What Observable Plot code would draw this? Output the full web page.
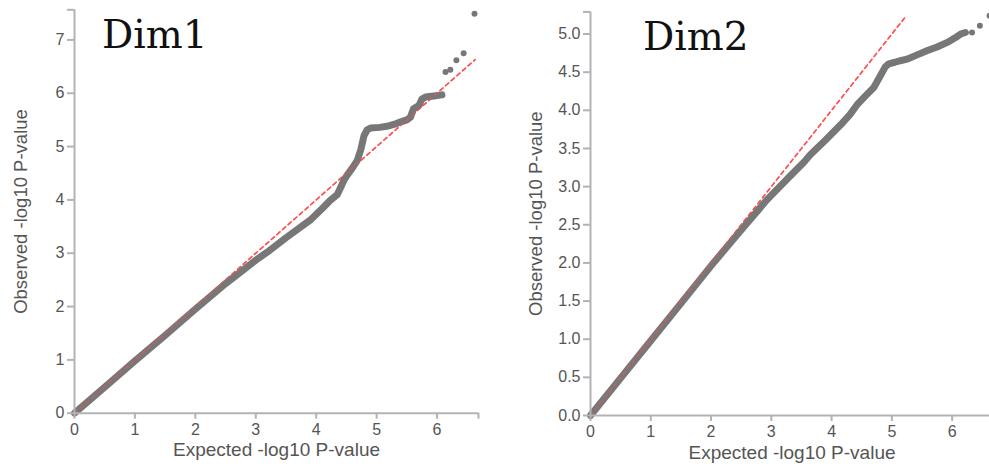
<!DOCTYPE html>
<html>
<head>
<meta charset="utf-8">
<script src="https://cdn.jsdelivr.net/npm/d3@7"></script>
<script src="https://cdn.jsdelivr.net/npm/@observablehq/plot@0.6"></script>
<style>
  html, body { margin: 0; padding: 0; background: #fff; overflow: hidden; }
  #wrap { position: relative; width: 989px; height: 469px; overflow: hidden; }
  .panel { position: absolute; top: 0; }
  .title { position: absolute; font-family: "DejaVu Serif", serif; font-size: 39px; color: #111; line-height: 1; }
</style>
</head>
<body>
<div id="wrap"></div>
<script>
// ---------- Data ----------
const titles = ["Dim1", "Dim2"];
const xLabel = "Expected -log10 P-value";
const yLabel = "Observed -log10 P-value";

// Dim1: dense band of points (expected, observed)
const dim1Expected = [0, 0.5, 1.0, 1.5, 2.0, 2.5, 3.0, 3.19, 3.5, 3.9, 4.1, 4.23, 4.35, 4.46, 4.51, 4.6, 4.68, 4.74, 4.79, 4.84, 4.9, 5.05, 5.17, 5.3, 5.39, 5.5, 5.56, 5.61, 5.7, 5.75, 5.81, 5.95, 6.08];
const dim1Observed = [0, 0.49, 0.98, 1.46, 1.95, 2.43, 2.87, 3.02, 3.29, 3.62, 3.84, 3.99, 4.10, 4.37, 4.46, 4.60, 4.74, 4.95, 5.20, 5.31, 5.35, 5.36, 5.38, 5.42, 5.46, 5.50, 5.55, 5.71, 5.77, 5.89, 5.93, 5.95, 5.97];
// Dim1: sparse tail points
const dim1TailExpected = [6.14, 6.22, 6.32, 6.44, 6.62];
const dim1TailObserved = [6.40, 6.44, 6.62, 6.75, 7.49];

// Dim2: dense band
const dim2Expected = [0, 0.5, 1.0, 1.5, 2.05, 2.5, 2.93, 3.3, 3.54, 3.65, 3.9, 4.15, 4.3, 4.42, 4.55, 4.70, 4.80, 4.89, 4.95, 5.05, 5.14, 5.25, 5.4, 5.58, 5.75, 5.92, 6.05, 6.14, 6.22];
const dim2Observed = [0, 0.49, 0.98, 1.47, 2.01, 2.43, 2.83, 3.13, 3.32, 3.42, 3.61, 3.81, 3.94, 4.07, 4.18, 4.30, 4.44, 4.57, 4.61, 4.63, 4.65, 4.67, 4.72, 4.78, 4.83, 4.89, 4.95, 5.00, 5.02];
const dim2TailExpected = [6.33, 6.46, 6.62];
const dim2TailObserved = [5.02, 5.11, 5.24];

// Reference (y = x) line end points
const dim1Diagonal = [0, 6.63];
const dim2Diagonal = [0, 5.24];

// Axis domains and ticks
const dim1XDomain = [0, 6.686];
const dim1YDomain = [0, 7.565];
const dim2XDomain = [0, 6.686];
const dim2YDomain = [0, 5.29];
const xTicks = [0, 1, 2, 3, 4, 5, 6];
const dim1YTicks = [0, 1, 2, 3, 4, 5, 6, 7];
const dim2YTicks = [0, 0.5, 1.0, 1.5, 2.0, 2.5, 3.0, 3.5, 4.0, 4.5, 5.0];

// ---------- Drawing ----------
const zip = (xs, ys) => xs.map((x, i) => ({x, y: ys[i]}));
const AXIS = "#b3b3b3";
const TEXT = "#555";
const POINT = "#777";

function panel({left, width, marginLeft, marginRight, marginTop, marginBottom,
                xDomain, yDomain, yTicks, yFmt, band, tail, diag, titleText, titleX, titleY, yLabelDx}) {
  const xt = [...xTicks, xDomain[1]];
  const yt = [...yTicks, yDomain[1]];
  const chart = Plot.plot({
    width, height: 469,
    marginLeft, marginRight, marginTop, marginBottom,
    style: {fontFamily: "'Liberation Sans', Arial, sans-serif", background: "transparent", overflow: "visible"},
    x: {domain: xDomain},
    y: {domain: yDomain},
    marks: [
      Plot.line(diag.map(d => ({x: d, y: d})), {x: "x", y: "y", stroke: "#ff5050", strokeWidth: 1.6, strokeDasharray: "4,3.5"}),
      Plot.line(band, {x: "x", y: "y", stroke: POINT, strokeWidth: 7, strokeLinecap: "round", strokeLinejoin: "round"}),
      Plot.dot(tail, {x: "x", y: "y", r: 3, fill: POINT}),
      Plot.line(diag.map(d => ({x: d, y: d})), {x: "x", y: "y", stroke: "#ff5050", strokeWidth: 1.4, strokeDasharray: "4,3.5", strokeOpacity: 0.6}),
      Plot.ruleY([0], {stroke: AXIS, strokeWidth: 2}),
      Plot.ruleX([0], {stroke: AXIS, strokeWidth: 2}),
      Plot.axisX({ticks: xt, tickSize: 6, tickPadding: 4, stroke: AXIS, strokeWidth: 2, fill: TEXT,
                  fontSize: 16, label: null, tickFormat: (d) => d === xDomain[1] ? "" : d3.format("d")(d)}),
      Plot.axisY({ticks: yt, tickSize: 7, tickPadding: 3, stroke: AXIS, strokeWidth: 2, fill: TEXT,
                  fontSize: 16, label: null, tickFormat: (d) => d === yDomain[1] ? "" : d3.format(yFmt)(d)}),
      Plot.text([xLabel], {frameAnchor: "bottom", dy: 43, fill: TEXT, fontSize: 19}),
      Plot.text([yLabel], {frameAnchor: "left", textAnchor: "middle", rotate: -90, dx: yLabelDx, fill: TEXT, fontSize: 18.5})
    ]
  });
  chart.classList.add("panel");
  chart.style.left = left + "px";
  const wrap = document.getElementById("wrap");
  wrap.appendChild(chart);
  const t = document.createElement("div");
  t.className = "title";
  t.textContent = titleText;
  t.style.left = titleX + "px";
  t.style.top = titleY + "px";
  wrap.appendChild(t);
}

panel({
  left: 0, width: 490, marginLeft: 74, marginRight: 12, marginTop: 9.3, marginBottom: 56.3,
  xDomain: dim1XDomain, yDomain: dim1YDomain, yTicks: dim1YTicks, yFmt: "d",
  band: zip(dim1Expected, dim1Observed), tail: zip(dim1TailExpected, dim1TailObserved),
  diag: dim1Diagonal, titleText: titles[0], titleX: 102, titleY: 15, yLabelDx: -53
});
panel({
  left: 500, width: 500, marginLeft: 90, marginRight: 7, marginTop: 11.4, marginBottom: 54,
  xDomain: dim2XDomain, yDomain: dim2YDomain, yTicks: dim2YTicks, yFmt: ".1f",
  band: zip(dim2Expected, dim2Observed), tail: zip(dim2TailExpected, dim2TailObserved),
  diag: dim2Diagonal, titleText: titles[1], titleX: 643, titleY: 17, yLabelDx: -54
});
</script>
</body>
</html>
